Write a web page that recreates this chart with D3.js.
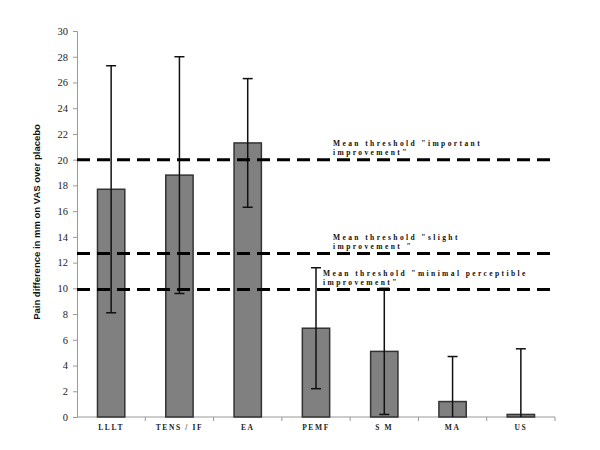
<!DOCTYPE html>
<html>
<head>
<meta charset="utf-8">
<script src="https://cdn.jsdelivr.net/npm/d3@7.9.0/dist/d3.min.js"></script>
<style>
  body { margin: 0; background: #fff; }
  svg { display: block; }
  .serif { font-family: "Liberation Serif", "Times New Roman", serif; }
</style>
</head>
<body>
<svg id="chart" width="600" height="450"></svg>
<script>
// data
const treatments = ['LLLT', 'TENS / IF', 'EA', 'PEMF', 'S M', 'MA', 'US'];
const meanDiff = [17.7, 18.8, 21.3, 6.9, 5.1, 1.2, 0.2];
const errUpper = [27.3, 28.0, 26.3, 11.6, 10.0, 4.7, 5.3];
const errLower = [8.1, 9.6, 16.3, 2.2, 0.2, 0, 0];
const thresholdValues = [20, 12.7, 9.9];
const thresholdLabels = [
  ['Mean threshold "important', 'improvement"'],
  ['Mean threshold "slight', 'improvement "'],
  ['Mean threshold "minimal perceptible', 'improvement"']
];
const yTicks = d3.range(0, 31, 2);

const margin = { top: 31, right: 45, bottom: 33, left: 77 };
const width = 600 - margin.left - margin.right;
const height = 450 - margin.top - margin.bottom;

const svg = d3.select('#chart');
const g = svg.append('g').attr('transform', `translate(${margin.left},${margin.top})`);

let x = d3.scaleBand().domain(treatments).range([0, width]).paddingInner(0.6).paddingOuter(0.3);
let xTick = d3.scaleLinear().domain([0, treatments.length]).range([0, width]);
let y = d3.scaleLinear().domain([0, 30]).range([height, 0]);

// y axis
let yAxis = g.append('g').call(d3.axisLeft(y).tickValues(yTicks).tickSize(4).tickPadding(5));
yAxis.select('.domain').attr('stroke', '#999');
yAxis.selectAll('.tick line').attr('stroke', '#999');
yAxis.selectAll('.tick text')
  .attr('class', 'serif')
  .attr('font-family', null)
  .attr('font-size', 10.5)
  .attr('fill', '#222');

// x axis line with category separators
g.append('line')
  .attr('x1', 0).attr('x2', width)
  .attr('y1', height).attr('y2', height)
  .attr('stroke', '#999');
d3.range(1, treatments.length + 1).forEach(i => {
  g.append('line')
    .attr('x1', xTick(i)).attr('x2', xTick(i))
    .attr('y1', height).attr('y2', height + 4)
    .attr('stroke', '#999');
});

// bars
g.selectAll('rect.bar')
  .data(treatments)
  .join('rect')
  .attr('class', 'bar')
  .attr('x', d => x(d))
  .attr('width', x.bandwidth())
  .attr('y', (d, i) => y(meanDiff[i]))
  .attr('height', (d, i) => height - y(meanDiff[i]))
  .attr('fill', '#808080')
  .attr('stroke', '#333')
  .attr('stroke-width', 1.5);

// error bars
const capW = 10;
treatments.forEach((t, i) => {
  let cx = x(t) + x.bandwidth() / 2;
  g.append('line')
    .attr('x1', cx).attr('x2', cx)
    .attr('y1', y(errUpper[i])).attr('y2', y(errLower[i]))
    .attr('stroke', '#111').attr('stroke-width', 1.5);
  g.append('line')
    .attr('x1', cx - capW / 2).attr('x2', cx + capW / 2)
    .attr('y1', y(errUpper[i])).attr('y2', y(errUpper[i]))
    .attr('stroke', '#111').attr('stroke-width', 1.5);
  if (errLower[i] > 0) {
    g.append('line')
      .attr('x1', cx - capW / 2).attr('x2', cx + capW / 2)
      .attr('y1', y(errLower[i])).attr('y2', y(errLower[i]))
      .attr('stroke', '#111').attr('stroke-width', 1.5);
  }
});

// x labels
g.selectAll('text.xlab')
  .data(treatments)
  .join('text')
  .attr('class', 'xlab serif')
  .attr('x', d => x(d) + x.bandwidth() / 2)
  .attr('y', height + 13)
  .attr('text-anchor', 'middle')
  .attr('font-weight', 'bold')
  .attr('font-size', 7.5)
  .attr('letter-spacing', 1.6)
  .attr('fill', '#222')
  .text(d => d);

// threshold lines
thresholdValues.forEach(v => {
  g.append('line')
    .attr('x1', 0).attr('x2', width)
    .attr('y1', y(v)).attr('y2', y(v))
    .attr('stroke', '#000')
    .attr('stroke-width', 3)
    .attr('stroke-dasharray', '13,7');
});

// threshold labels
const labelX = [333, 333, 323];
thresholdLabels.forEach((lines, i) => {
  let t = svg.append('text')
    .attr('class', 'serif')
    .attr('font-weight', 'bold')
    .attr('font-size', 7.5)
    .attr('letter-spacing', 2.4)
    .attr('fill', '#111');
  let baseY = margin.top + y(thresholdValues[i]) - 14;
  lines.forEach((line, j) => {
    t.append('tspan')
      .attr('x', labelX[i])
      .attr('y', baseY + j * 9.5)
      .text(line);
  });
});

// y title
svg.append('text')
  .attr('transform', 'translate(40,222) rotate(-90)')
  .attr('text-anchor', 'middle')
  .attr('font-family', '"Liberation Sans Narrow", "Liberation Sans", sans-serif')
  .attr('font-weight', 'bold')
  .attr('font-size', 9.5)
  .attr('fill', '#111')
  .text('Pain difference in mm on VAS over placebo');
</script>
</body>
</html>
